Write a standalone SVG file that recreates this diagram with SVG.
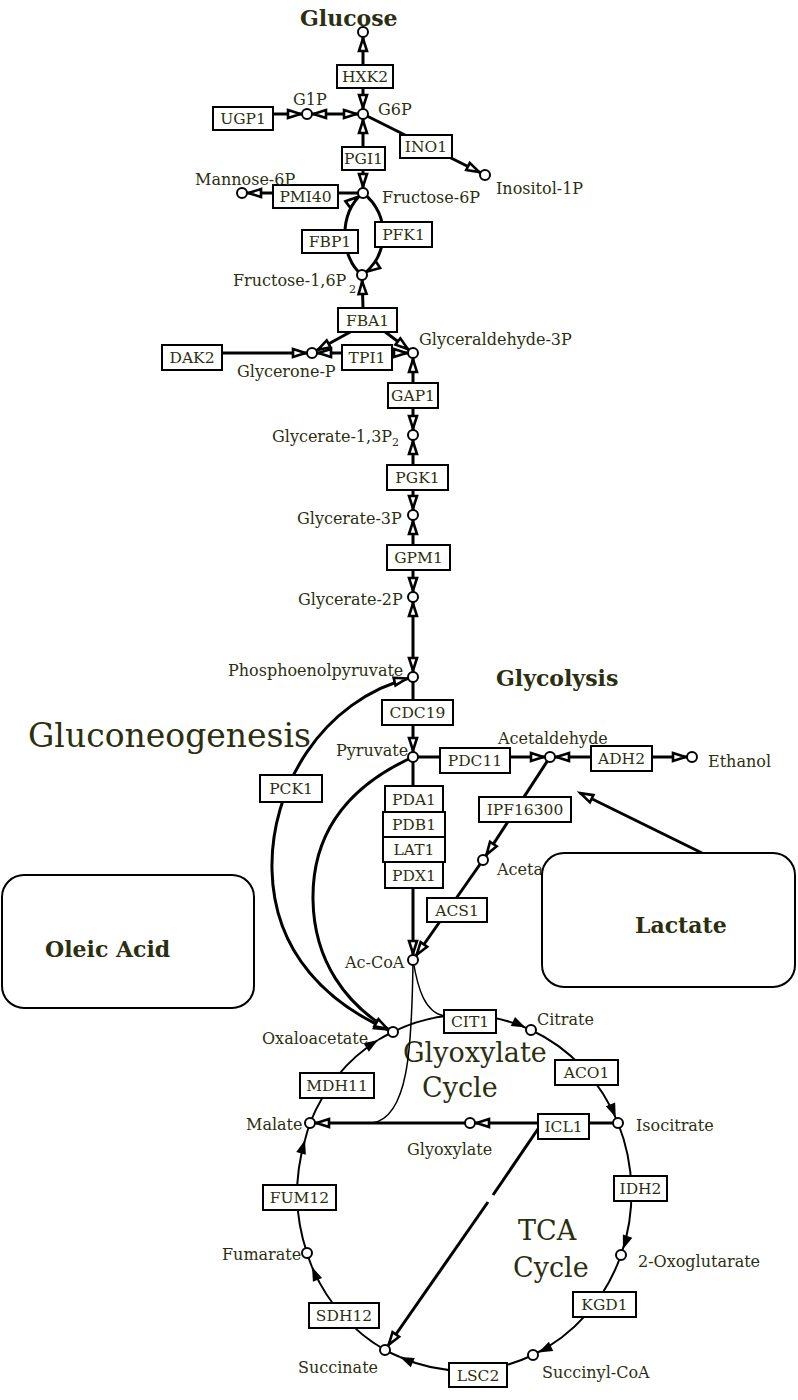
<svg xmlns="http://www.w3.org/2000/svg" width="798" height="1400" viewBox="0 0 798 1400">
<style>
text{font-family:"DejaVu Serif","Liberation Serif",serif;fill:#2b2f10}
.lbl{font-size:16px}
.title{font-size:22px;font-weight:bold}
.big{font-size:27px}
.huge{font-size:33px}
.box rect{fill:#fff;stroke:#000;stroke-width:2}
.box text{font-size:15.5px;text-anchor:middle}
.node circle{fill:#fff;stroke:#000;stroke-width:2}
.rbox{fill:#fff;stroke:#000;stroke-width:2}
.c3{fill:none;stroke:#000;stroke-width:3}
.c2{fill:none;stroke:#000;stroke-width:2}
.c1{fill:none;stroke:#000;stroke-width:1.5}
</style>
<defs>
<marker id="oa" markerUnits="userSpaceOnUse" markerWidth="30" markerHeight="16" refX="21" refY="6" orient="auto-start-reverse" overflow="visible"><path d="M2,2 L14.5,6 L2,10 Z" fill="#fff" stroke="#000" stroke-width="2.6" stroke-linejoin="miter"/></marker>
<marker id="oa0" markerUnits="userSpaceOnUse" markerWidth="30" markerHeight="16" refX="15" refY="6" orient="auto-start-reverse" overflow="visible"><path d="M2,2 L14.5,6 L2,10 Z" fill="#fff" stroke="#000" stroke-width="2.6"/></marker>
<marker id="fa" markerUnits="userSpaceOnUse" markerWidth="30" markerHeight="16" refX="20" refY="5" orient="auto" overflow="visible"><path d="M0,0 L14,5 L0,10 Z" fill="#000"/></marker>
<marker id="fa0" markerUnits="userSpaceOnUse" markerWidth="30" markerHeight="16" refX="14" refY="5" orient="auto" overflow="visible"><path d="M0,0 L14,5 L0,10 Z" fill="#000"/></marker>
</defs>
<rect width="798" height="1400" fill="#fff"/>

<g id="titles">
<text class="title" x="300" y="26">Glucose</text>
<text class="title" x="496" y="686">Glycolysis</text>
<text class="huge" x="28" y="747">Gluconeogenesis</text>
<text class="big" x="403" y="1062">Glyoxylate</text>
<text class="big" x="422" y="1097">Cycle</text>
<text class="big" x="518" y="1240">TCA</text>
<text class="big" x="513" y="1277">Cycle</text>
</g>

<g id="connectors">
<path class="c3" d="M363,114 L363,32" marker-start="url(#oa)" marker-end="url(#oa)"/>
<path class="c3" d="M273,114 L307,114" marker-end="url(#oa)"/>
<path class="c3" d="M307,114 L363,114" marker-start="url(#oa)" marker-end="url(#oa)"/>
<path class="c3" d="M363,114 L485,175" marker-end="url(#oa)"/>
<path class="c3" d="M363,114 L363,193" marker-start="url(#oa)" marker-end="url(#oa)"/>
<path class="c3" d="M363,193 L242,193" marker-end="url(#oa)"/>
<path class="c3" d="M362,275 C340,258 338,212 363,193" marker-end="url(#oa)"/>
<path class="c3" d="M363,193 C392,215 388,258 362,275" marker-end="url(#oa)"/>
<path class="c3" d="M363,308 L362,275" marker-end="url(#oa)"/>
<path class="c3" d="M352,331 L312,353" marker-end="url(#oa)"/>
<path class="c3" d="M384,331 L413,353" marker-end="url(#oa)"/>
<path class="c3" d="M312,353 L413,353" marker-start="url(#oa)" marker-end="url(#oa)"/>
<path class="c3" d="M222,353 L312,353" marker-end="url(#oa)"/>
<path class="c3" d="M413,353 L413,435" marker-start="url(#oa)" marker-end="url(#oa)"/>
<path class="c3" d="M413,435 L413,515" marker-start="url(#oa)" marker-end="url(#oa)"/>
<path class="c3" d="M413,515 L413,597" marker-start="url(#oa)" marker-end="url(#oa)"/>
<path class="c3" d="M413,597 L413,677" marker-start="url(#oa)" marker-end="url(#oa)"/>
<path class="c3" d="M413,677 L413,757" marker-end="url(#oa)"/>
<path class="c3" d="M413,757 L550,757" marker-end="url(#oa)"/>
<path class="c3" d="M550,757 L692,757" marker-start="url(#oa)" marker-end="url(#oa)"/>
<path class="c3" d="M550,757 L483,860" marker-end="url(#oa)"/>
<path class="c3" d="M483,860 L413,960" marker-end="url(#oa)"/>
<path class="c3" d="M413,757 L413,960" marker-end="url(#oa)"/>
<path class="c3" d="M702,853 L580,793" marker-end="url(#oa0)"/>
<path class="c3" d="M393,1032 C330,1005 274,955 272,870 C270,790 320,700 413,677" marker-start="url(#oa)" marker-end="url(#oa)"/>
<path class="c3" d="M413,757 C340,790 312,840 313,900 C314,960 345,1005 393,1032" marker-end="url(#oa)"/>
<path class="c1" d="M413,960 C412,1050 408,1118 372,1123"/>
<path class="c1" d="M413,960 C418,990 425,1012 444,1016"/>
<path class="c3" d="M618,1123 L589,1123"/>
<path class="c3" d="M538,1123 L470,1123" marker-end="url(#oa)"/>
<path class="c3" d="M470,1123 L310,1123" marker-end="url(#oa)"/>
<path class="c3" d="M540,1126 L493,1195"/>
<path class="c3" d="M488,1202 L385,1350" marker-end="url(#oa)"/>
<path class="c2" d="M393,1032 A167,178 0 0 1 531,1030" marker-end="url(#fa)"/>
<path class="c2" d="M531,1030 A167,178 0 0 1 618,1123" marker-end="url(#fa)"/>
<path class="c2" d="M618,1123 A167,178 0 0 1 621,1255" marker-end="url(#fa)"/>
<path class="c2" d="M621,1255 A167,178 0 0 1 533,1355" marker-end="url(#fa)"/>
<path class="c2" d="M533,1355 A167,178 0 0 1 400,1357" marker-end="url(#fa0)"/>
<path class="c2" d="M400,1357 A167,178 0 0 1 385,1350"/>
<path class="c2" d="M385,1350 A167,178 0 0 1 312,1267" marker-end="url(#fa0)"/>
<path class="c2" d="M312,1267 A167,178 0 0 1 307,1253"/>
<path class="c2" d="M307,1253 A167,178 0 0 1 305,1140" marker-end="url(#fa0)"/>
<path class="c2" d="M305,1140 A167,178 0 0 1 310,1123"/>
<path class="c2" d="M310,1123 A167,178 0 0 1 378,1040" marker-end="url(#fa0)"/>
<path class="c2" d="M378,1040 A167,178 0 0 1 393,1032"/>
</g>

<g id="enzymes">
<g id="HXK2" class="box"><rect x="337" y="65" width="56" height="23"/><text x="365" y="82">HXK2</text></g>
<g id="UGP1" class="box"><rect x="213" y="107" width="60" height="23"/><text x="243" y="124">UGP1</text></g>
<g id="INO1" class="box"><rect x="400" y="135" width="52" height="23"/><text x="426" y="152">INO1</text></g>
<g id="PGI1" class="box"><rect x="342" y="147" width="43" height="23"/><text x="363.5" y="164">PGI1</text></g>
<g id="PMI40" class="box"><rect x="273" y="185" width="65" height="23"/><text x="305.5" y="202">PMI40</text></g>
<g id="FBP1" class="box"><rect x="302" y="230" width="56" height="23"/><text x="330" y="247">FBP1</text></g>
<g id="PFK1" class="box"><rect x="375" y="222" width="57" height="25"/><text x="403.5" y="240">PFK1</text></g>
<g id="FBA1" class="box"><rect x="338" y="308" width="59" height="24"/><text x="367.5" y="326">FBA1</text></g>
<g id="TPI1" class="box"><rect x="342" y="345" width="50" height="25"/><text x="367" y="363">TPI1</text></g>
<g id="DAK2" class="box"><rect x="162" y="345" width="60" height="25"/><text x="192" y="363">DAK2</text></g>
<g id="GAP1" class="box"><rect x="388" y="383" width="50" height="25"/><text x="413" y="401">GAP1</text></g>
<g id="PGK1" class="box"><rect x="387" y="465" width="61" height="25"/><text x="417.5" y="483">PGK1</text></g>
<g id="GPM1" class="box"><rect x="387" y="545" width="63" height="25"/><text x="418.5" y="563">GPM1</text></g>
<g id="CDC19" class="box"><rect x="382" y="700" width="71" height="25"/><text x="417.5" y="718">CDC19</text></g>
<g id="PCK1" class="box"><rect x="260" y="775" width="62" height="27"/><text x="291" y="794">PCK1</text></g>
<g id="PDC11" class="box"><rect x="440" y="748" width="70" height="25"/><text x="475" y="766">PDC11</text></g>
<g id="ADH2" class="box"><rect x="591" y="746" width="61" height="25"/><text x="621.5" y="764">ADH2</text></g>
<g id="IPF16300" class="box"><rect x="479" y="797" width="92" height="25"/><text x="525" y="815">IPF16300</text></g>
<g id="PDA1" class="box"><rect x="385" y="786" width="58" height="26"/><text x="414" y="805">PDA1</text></g>
<g id="PDB1" class="box"><rect x="383" y="812" width="62" height="25"/><text x="414" y="830">PDB1</text></g>
<g id="LAT1" class="box"><rect x="383" y="837" width="62" height="25"/><text x="414" y="855">LAT1</text></g>
<g id="PDX1" class="box"><rect x="385" y="862" width="58" height="26"/><text x="414" y="881">PDX1</text></g>
<g id="ACS1" class="box"><rect x="427" y="898" width="60" height="24"/><text x="457" y="916">ACS1</text></g>
<g id="CIT1" class="box"><rect x="444" y="1010" width="52" height="23"/><text x="470" y="1027">CIT1</text></g>
<g id="ACO1" class="box"><rect x="555" y="1060" width="63" height="25"/><text x="586.5" y="1078">ACO1</text></g>
<g id="ICL1" class="box"><rect x="538" y="1114" width="51" height="25"/><text x="563.5" y="1132">ICL1</text></g>
<g id="IDH2" class="box"><rect x="614" y="1176" width="53" height="25"/><text x="640.5" y="1194">IDH2</text></g>
<g id="KGD1" class="box"><rect x="573" y="1292" width="63" height="25"/><text x="604.5" y="1310">KGD1</text></g>
<g id="LSC2" class="box"><rect x="449" y="1363" width="58" height="24"/><text x="478" y="1381">LSC2</text></g>
<g id="SDH12" class="box"><rect x="309" y="1303" width="70" height="25"/><text x="344" y="1321">SDH12</text></g>
<g id="FUM12" class="box"><rect x="263" y="1185" width="73" height="25"/><text x="299.5" y="1203">FUM12</text></g>
<g id="MDH11" class="box"><rect x="300" y="1073" width="74" height="25"/><text x="337" y="1091">MDH11</text></g>
</g>

<g id="metabolites">
<g id="Glucose" class="node"><circle cx="363" cy="32" r="5"/></g>
<g id="G6P" class="node"><circle cx="363" cy="114" r="5"/><text class="lbl" x="378" y="115">G6P</text></g>
<g id="G1P" class="node"><circle cx="307" cy="114" r="5"/><text class="lbl" x="293" y="105">G1P</text></g>
<g id="Inositol-1P" class="node"><circle cx="485" cy="175" r="5"/><text class="lbl" x="496" y="194">Inositol-1P</text></g>
<g id="Fructose-6P" class="node"><circle cx="363" cy="193" r="5"/><text class="lbl" x="382" y="203">Fructose-6P</text></g>
<g id="Mannose-6P" class="node"><circle cx="242" cy="193" r="5"/><text class="lbl" x="195" y="185">Mannose-6P</text></g>
<g id="Fructose-16P2" class="node"><circle cx="362" cy="275" r="5"/><text class="lbl" x="233" y="286">Fructose-1,6P</text><text x="349" y="293" font-size="11">2</text></g>
<g id="Glycerone-P" class="node"><circle cx="312" cy="353" r="5"/><text class="lbl" x="237" y="377">Glycerone-P</text></g>
<g id="Glyceraldehyde-3P" class="node"><circle cx="413" cy="353" r="5"/><text class="lbl" x="419" y="345">Glyceraldehyde-3P</text></g>
<g id="Glycerate-13P2" class="node"><circle cx="413" cy="435" r="5"/><text class="lbl" x="272" y="442">Glycerate-1,3P<tspan font-size="11" dy="4">2</tspan></text></g>
<g id="Glycerate-3P" class="node"><circle cx="413" cy="515" r="5"/><text class="lbl" x="297" y="524">Glycerate-3P</text></g>
<g id="Glycerate-2P" class="node"><circle cx="413" cy="597" r="5"/><text class="lbl" x="298" y="605">Glycerate-2P</text></g>
<g id="PEP" class="node"><circle cx="413" cy="677" r="5"/><text class="lbl" x="228" y="676">Phosphoenolpyruvate</text></g>
<g id="Pyruvate" class="node"><circle cx="413" cy="757" r="5"/><text class="lbl" x="336" y="756">Pyruvate</text></g>
<g id="Acetaldehyde" class="node"><circle cx="550" cy="757" r="5"/><text class="lbl" x="498" y="744">Acetaldehyde</text></g>
<g id="Ethanol" class="node"><circle cx="692" cy="757" r="5"/><text class="lbl" x="708" y="767">Ethanol</text></g>
<g id="Acetate" class="node"><circle cx="483" cy="860" r="5"/><text class="lbl" x="497" y="875">Acetate</text></g>
<g id="Ac-CoA" class="node"><circle cx="413" cy="960" r="5"/><text class="lbl" x="345" y="968">Ac-CoA</text></g>
<g id="Oxaloacetate" class="node"><circle cx="393" cy="1032" r="5"/><text class="lbl" x="262" y="1044">Oxaloacetate</text></g>
<g id="Citrate" class="node"><circle cx="531" cy="1030" r="5"/><text class="lbl" x="537" y="1025">Citrate</text></g>
<g id="Isocitrate" class="node"><circle cx="618" cy="1123" r="5"/><text class="lbl" x="636" y="1131">Isocitrate</text></g>
<g id="Glyoxylate" class="node"><circle cx="470" cy="1123" r="5"/><text class="lbl" x="407" y="1155">Glyoxylate</text></g>
<g id="Malate" class="node"><circle cx="310" cy="1123" r="5"/><text class="lbl" x="246" y="1130">Malate</text></g>
<g id="2-Oxoglutarate" class="node"><circle cx="621" cy="1255" r="5"/><text class="lbl" x="638" y="1267">2-Oxoglutarate</text></g>
<g id="Succinyl-CoA" class="node"><circle cx="533" cy="1355" r="5"/><text class="lbl" x="542" y="1378">Succinyl-CoA</text></g>
<g id="Succinate" class="node"><circle cx="385" cy="1350" r="5"/><text class="lbl" x="298" y="1373">Succinate</text></g>
<g id="Fumarate" class="node"><circle cx="307" cy="1253" r="5"/><text class="lbl" x="222" y="1260">Fumarate</text></g>
</g>

<g id="Lactate"><rect class="rbox" x="542" y="853" width="253" height="134" rx="22"/><text class="title" x="635" y="933">Lactate</text></g>
<g id="OleicAcid"><rect class="rbox" x="2" y="875" width="252" height="133" rx="22"/><text class="title" x="45" y="957">Oleic Acid</text></g>
</svg>
